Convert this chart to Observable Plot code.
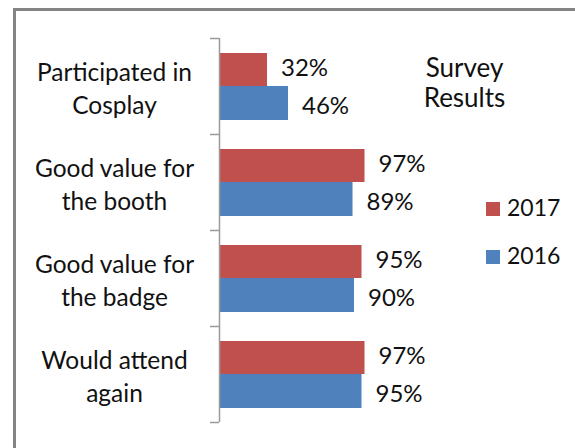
<!DOCTYPE html>
<html>
<head>
<meta charset="utf-8">
<script src="https://cdn.jsdelivr.net/npm/d3@7"></script>
<script src="https://cdn.jsdelivr.net/npm/@observablehq/plot@0.6"></script>
<style>
  html, body { margin: 0; padding: 0; background: #fff; }
  #wrap { position: relative; width: 575px; height: 448px; overflow: hidden; font-family: Lato, "Open Sans", sans-serif; }
  #frame { position: absolute; left: 13px; top: 8px; width: 700px; height: 700px; border: 3px solid #848484; box-sizing: border-box; }
  #chart { position: absolute; left: 0; top: 0; }
  .leg { position: absolute; left: 486px; font-size: 23px; color: #111; line-height: 1; }
  .leg span { display: inline-block; width: 14px; height: 14px; margin-right: 7px; vertical-align: 0px; }
</style>
</head>
<body>
<div id="wrap">
  <div id="frame"></div>
  <div id="chart"></div>
  <div class="leg" id="leg2017" style="top:196px"><span style="background:#C0504D"></span>2017</div>
  <div class="leg" id="leg2016" style="top:244px"><span style="background:#4F81BD"></span>2016</div>
</div>
<script>
const categories = ["Participated in Cosplay", "Good value for the booth", "Good value for the badge", "Would attend again"];
const tickLabels = ["Participated in\nCosplay", "Good value for\nthe booth", "Good value for\nthe badge", "Would attend\nagain"];
const values2017 = [32, 97, 95, 97];
const values2016 = [46, 89, 90, 95];
const title = "Survey\nResults";

const data2017 = categories.map((c, i) => ({category: c, value: values2017[i]}));
const data2016 = categories.map((c, i) => ({category: c, value: values2016[i]}));
const labelOf = new Map(categories.map((c, i) => [c, tickLabels[i]]));

const font = "Lato, 'Open Sans', sans-serif";

const plot = Plot.plot({
  width: 575,
  height: 448,
  marginLeft: 219,
  marginRight: 206,
  marginTop: 38,
  marginBottom: 26,
  style: {fontFamily: font, background: "transparent", overflow: "visible"},
  x: {domain: [0, 100], axis: null},
  y: {domain: categories, padding: 0, axis: null},
  marks: [
    Plot.barX(data2017, {y: "category", x: "value", fill: "#C0504D", insetTop: 15, insetBottom: 48}),
    Plot.barX(data2016, {y: "category", x: "value", fill: "#4F81BD", insetTop: 48, insetBottom: 14}),
    Plot.text(data2017, {y: "category", x: "value", text: d => d.value + "%", textAnchor: "start", dx: 13.5, dy: -18.5, fontSize: 24, fill: "#111"}),
    Plot.text(data2016, {y: "category", x: "value", text: d => d.value + "%", textAnchor: "start", dx: 13.5, dy: 19.5, fontSize: 24, fill: "#111"}),
    Plot.axisY({label: null, tickSize: 0, tickPadding: 105, textAnchor: "middle", tickFormat: d => labelOf.get(d), fontSize: 24.5, lineHeight: 1.35, fill: "#111", stroke: null}),
    Plot.ruleX([0], {stroke: "#9a9a9a", strokeWidth: 1.5}),
    Plot.ruleY(categories, {y: d => d, x1: -6, x2: 0, dy: -48, stroke: "#9a9a9a", strokeWidth: 1.5}),
    Plot.ruleY(categories.slice(-1), {y: d => d, x1: -6, x2: 0, dy: 48, stroke: "#9a9a9a", strokeWidth: 1.5}),
    Plot.text([title], {frameAnchor: "top-right", dx: 95, dy: 18, text: d => d, fontSize: 26, lineHeight: 1.13, textAnchor: "middle", fill: "#111"})
  ]
});
document.getElementById("chart").appendChild(plot);
</script>
</body>
</html>
